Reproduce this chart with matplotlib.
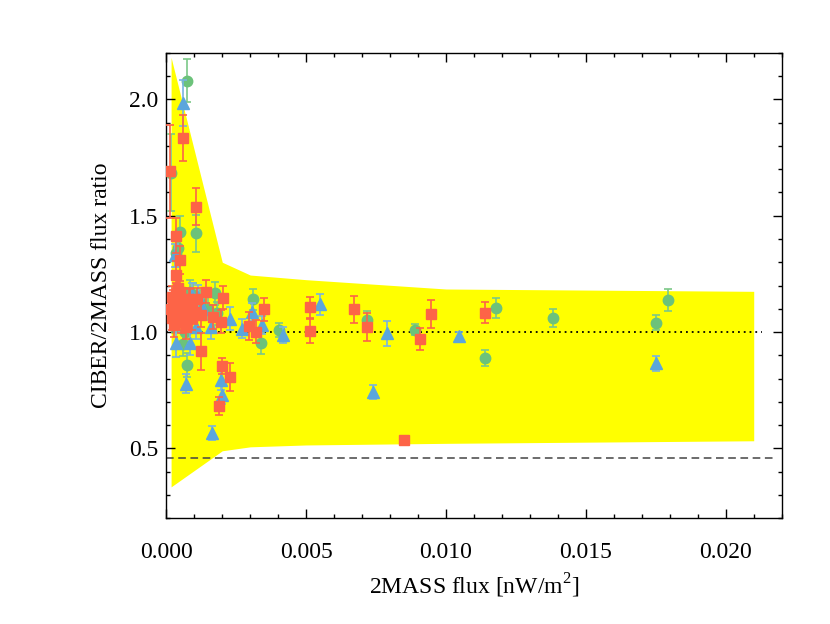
import numpy as np
import matplotlib
matplotlib.use('Agg')
import matplotlib.pyplot as plt
from matplotlib.ticker import MultipleLocator, FormatStrFormatter

plt.rcParams['font.family'] = ['Liberation Serif', 'DejaVu Serif']
plt.rcParams['mathtext.fontset'] = 'custom'
plt.rcParams['mathtext.rm'] = 'Liberation Serif'

# allowed region (yellow band)
band_x = [0.00017, 0.002, 0.003, 0.005, 0.010, 0.021]
band_hi = [2.18, 1.30, 1.245, 1.225, 1.185, 1.175]
band_lo = [0.335, 0.49, 0.507, 0.515, 0.522, 0.533]

# red squares
red_x = [0.00014, 0.00058, 0.00105, 0.00036, 0.00048, 0.00034,
         0.00020, 0.00030, 0.00040, 0.00022, 0.00050, 0.00060, 0.00070, 0.00090, 0.00028, 0.00052,
         0.00072, 0.00080, 0.00016, 0.00092, 0.00110, 0.00042, 0.00062, 0.00100, 0.00025, 0.00035,
         0.00143, 0.00203, 0.00084, 0.00125, 0.00167, 0.00196, 0.00124, 0.00199, 0.00229, 0.00188,
         0.00295, 0.00321, 0.00349, 0.00513, 0.00513, 0.00670, 0.00716, 0.00850, 0.00906, 0.00945, 0.01141]
red_y = [1.69, 1.833, 1.538, 1.413, 1.309, 1.244,
         1.15, 1.12, 1.08, 1.06, 1.17, 1.14, 1.10, 1.06, 1.03, 1.045,
         1.02, 1.14, 1.10, 1.11, 1.14, 1.19, 1.075, 1.085, 1.13, 1.16,
         1.173, 1.147, 1.137, 1.073, 1.065, 1.044, 0.918, 0.855, 0.808, 0.683,
         1.025, 1.001, 1.097, 1.106, 1.005, 1.097, 1.022, 0.537, 0.969, 1.077, 1.084]
red_err = [0.2, 0.1, 0.08, 0.075, 0.06, 0.06,
           0.05, 0.05, 0.05, 0.05, 0.05, 0.05, 0.05, 0.05, 0.05, 0.05,
           0.05, 0.05, 0.05, 0.05, 0.05, 0.05, 0.05, 0.05, 0.05, 0.05,
           0.05, 0.05, 0.05, 0.05, 0.05, 0.05, 0.08, 0.035, 0.06, 0.04,
           0.06, 0.05, 0.05, 0.045, 0.05, 0.058, 0.06, 0.01, 0.047, 0.06, 0.046]

# green circles
grn_x = [0.00075, 0.00018, 0.00049, 0.00105, 0.00042, 0.00036, 0.00173, 0.00310, 0.00339, 0.00060,
         0.00074, 0.00404, 0.00716, 0.00888, 0.01138, 0.01180, 0.01382, 0.01749, 0.01795,
         0.00020, 0.00083, 0.00120, 0.00042, 0.00150, 0.00180, 0.00030, 0.00095, 0.00065]
grn_y = [2.08, 1.684, 1.43, 1.425, 1.36, 1.34, 1.166, 1.14, 0.951, 0.948,
         0.858, 1.008, 1.051, 1.011, 0.889, 1.104, 1.061, 1.041, 1.137,
         1.10, 1.173, 1.13, 1.115, 1.10, 1.08, 1.05, 1.16, 1.00]
grn_err = [0.092, 0.165, 0.07, 0.08, 0.05, 0.06, 0.05, 0.045, 0.045, 0.05,
           0.05, 0.03, 0.04, 0.025, 0.034, 0.042, 0.04, 0.034, 0.046,
           0.05, 0.05, 0.05, 0.05, 0.05, 0.05, 0.05, 0.05, 0.05]

# blue triangles
blu_x = [0.00058, 0.00113, 0.00226, 0.00161, 0.00107, 0.00271, 0.00307, 0.00343, 0.00036, 0.00086,
         0.00071, 0.00196, 0.00200, 0.00164, 0.00549, 0.00418, 0.00739, 0.00789, 0.01046, 0.01749,
         0.00031, 0.00055, 0.00090, 0.00048, 0.00025, 0.00130]
blu_y = [1.984, 1.151, 1.058, 1.022, 1.022, 1.015, 1.087, 1.03, 0.951, 0.951,
         0.779, 0.793, 0.729, 0.565, 1.12, 0.987, 0.743, 0.994, 0.982, 0.865,
         1.33, 1.05, 1.16, 1.12, 1.08, 1.10]
blu_err = [0.1, 0.05, 0.05, 0.05, 0.05, 0.04, 0.04, 0.04, 0.06, 0.05,
           0.04, 0.04, 0.04, 0.03, 0.045, 0.035, 0.03, 0.055, 0.02, 0.032,
           0.05, 0.05, 0.05, 0.05, 0.05, 0.05]

fig = plt.figure(figsize=(8.3, 6.24), dpi=100)
ax = fig.add_axes([0.2004, 0.1694, 0.7414, 0.7461])

ax.fill_between(band_x, band_lo, band_hi, color='#ffff00', lw=0, zorder=1)
ax.plot([0, 0.0213], [1.0, 1.0], color='black', ls=(0, (1, 2.2)), lw=1.3, zorder=2)
ax.plot([0, 0.0217], [0.46, 0.46], color='#444444', ls=(0, (5, 3)), lw=1.1, zorder=2)

ax.errorbar(grn_x, grn_y, yerr=grn_err, fmt='o', color='#6cc27a', ms=7.5,
            ecolor='#7cc888', elinewidth=1.2, capsize=2.8, capthick=1.2, zorder=3)
ax.errorbar(blu_x, blu_y, yerr=blu_err, fmt='^', color='#5ba6dc', ms=8,
            ecolor='#78b4e0', elinewidth=1.2, capsize=2.8, capthick=1.2, zorder=4)
ax.errorbar(red_x, red_y, yerr=red_err, fmt='s', color='#fd6447', ms=7.5,
            ecolor='#fd6447', elinewidth=1.2, capsize=2.8, capthick=1.2, zorder=5)

ax.set_xlim(0, 0.022)
ax.set_ylim(0.2, 2.2)
ax.xaxis.set_major_locator(MultipleLocator(0.005))
ax.xaxis.set_minor_locator(MultipleLocator(0.001))
ax.yaxis.set_major_locator(MultipleLocator(0.5))
ax.yaxis.set_minor_locator(MultipleLocator(0.1))
ax.xaxis.set_major_formatter(FormatStrFormatter('%.3f'))
ax.yaxis.set_major_formatter(FormatStrFormatter('%.1f'))
ax.tick_params(which='both', direction='in', top=True, right=True, width=1.0, labelsize=17)
ax.tick_params(which='major', length=6.5)
ax.tick_params(which='minor', length=3)
ax.tick_params(axis='x', pad=17)
ax.tick_params(axis='y', pad=6)
for s in ax.spines.values():
    s.set_linewidth(1.0)

ax.set_xlabel('2MASS flux [nW/m$^2$]', fontsize=17, labelpad=6)
ax.set_ylabel('CIBER/2MASS flux ratio', fontsize=17, labelpad=12)

plt.savefig('out.png', dpi=100)
